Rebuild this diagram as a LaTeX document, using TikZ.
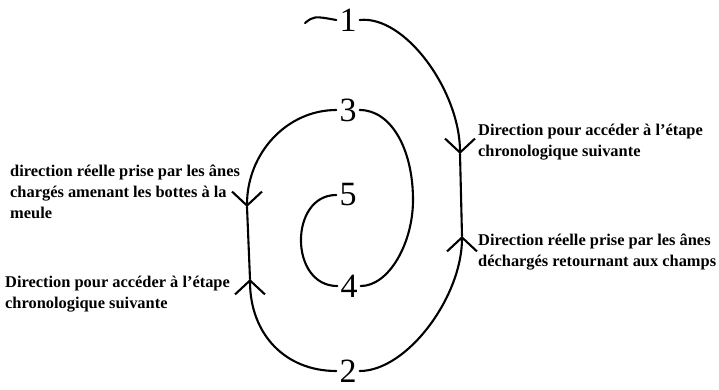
\documentclass[tikz,border=0pt]{standalone}
\usepackage{fontspec}
\setmainfont{Liberation Serif}
\usetikzlibrary{positioning, arrows.meta}

\begin{document}
\begin{tikzpicture}[
    x=1pt, y=-1pt,
    stage/.style={inner sep=3pt, font=\fontsize{34}{34}\selectfont},
    note/.style={align=left, anchor=west, inner sep=0pt, font=\bfseries\fontsize{16.4}{21}\selectfont},
    loop/.style={line width=2.1pt, line cap=round},
    chev/.style={loop, -{Straight Barb[length=14pt, width=30pt, line width=2.1pt]}},
]
\useasboundingbox (0,0) rectangle (719,389);

% stages of the spiral
\node[stage] (n1) at (348,20) {1};
\node[stage] (n3) at (348,110) {3};
\node[stage] (n5) at (348,195) {5};
\node[stage] (n4) at (349,286) {4};
\node[stage] (n2) at (348,371) {2};

\coordinate (t1) at (305,23);
\coordinate (a1) at (460,154);
\coordinate (a2) at (462,236);
\coordinate (b1) at (247,207);
\coordinate (b2) at (250,279);
\coordinate (k34) at (413,200);

\draw[loop] (t1) .. controls (314,16) .. (n1.west);
\draw[chev] (n1.east) .. controls (405,15) and (460,91) .. (a1);
\draw[loop] (a1) -- (a2);
\draw[chev] (n2.east) .. controls (407,371) and (462,297) .. (a2);
\draw[chev] (n2.west) .. controls (285,371) and (250,334) .. (b2);
\draw[loop] (b2) -- (b1);
\draw[chev] (n3.west) .. controls (287,110) and (247,153) .. (b1);
\draw[loop] (n3.east) .. controls (391,110) and (413,149) .. (k34)
    .. controls (413,243) and (389,286) .. (n4.east);
\draw[loop] (n4.west) .. controls (289,286) and (289,195) .. (n5.west);

% labels
\node[note] (r1) at (478,142) {Direction pour accéder à l'étape\\chronologique suivante};
\node[note] (r2) at (478,252) {Direction réelle prise par les ânes\\déchargés retournant aux champs};
\node[note] (l1) at (10,192) {direction réelle prise par les ânes\\chargés amenant les bottes à la\\meule};
\node[note] (l2) at (5,294) {Direction pour accéder à l'étape\\chronologique suivante};
\end{tikzpicture}
\end{document}
